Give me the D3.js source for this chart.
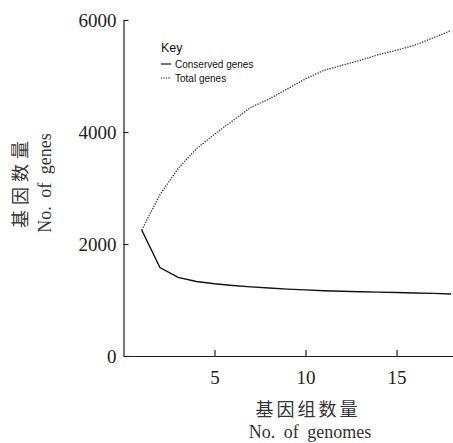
<!DOCTYPE html>
<html>
<head>
<meta charset="utf-8">
<script src="https://cdn.jsdelivr.net/npm/d3@7"></script>
<style>
  body { margin: 0; background: #fff; }
  .tick text { font-family: "Liberation Serif", "Times New Roman", serif; font-size: 19px; fill: #222; }
  .axisText { font-family: "Liberation Serif", serif; font-size: 18px; fill: #333; }
  .cjk { font-family: "Noto Sans CJK SC", sans-serif; font-size: 18px; fill: #333; }
  .legend { font-family: "Liberation Sans", Arial, sans-serif; fill: #111; }
</style>
</head>
<body>
<div class="chart"></div>
<script>
var svgWidth = 453;
var svgHeight = 443;

// data
var genomes = [1, 2, 3, 4, 5, 6, 7, 8, 9, 10, 11, 12, 13, 14, 15, 16, 17, 18];
var conservedGenes = [2250, 1580, 1405, 1330, 1290, 1260, 1235, 1215, 1195, 1180, 1165, 1155, 1148, 1140, 1133, 1126, 1118, 1108];
var totalGenes = [2250, 2880, 3350, 3700, 3960, 4200, 4440, 4590, 4770, 4950, 5100, 5190, 5280, 5380, 5460, 5550, 5680, 5810];
var xTicks = [5, 10, 15];
var yTicks = [0, 2000, 4000, 6000];
var seriesNames = ["Conserved genes", "Total genes"];

var svg = d3.select(".chart")
  .append("svg")
  .attr("width", svgWidth)
  .attr("height", svgHeight);

var xScale = d3.scaleLinear()
  .domain([0, 18.1])
  .range([123.5, 453]);

var yScale = d3.scaleLinear()
  .domain([0, 6000])
  .range([356, 20]);

// axes, ticks pointing inward
var bottomAxis = d3.axisBottom(xScale)
  .tickValues(xTicks)
  .tickFormat(d3.format("d"))
  .tickSizeInner(-6)
  .tickSizeOuter(0)
  .tickPadding(15);

var leftAxis = d3.axisLeft(yScale)
  .tickValues(yTicks)
  .tickFormat(d3.format("d"))
  .tickSizeInner(-5)
  .tickSizeOuter(0)
  .tickPadding(7);

var xAxisG = svg.append("g")
  .attr("transform", "translate(0,356)")
  .call(bottomAxis);

var yAxisG = svg.append("g")
  .attr("transform", "translate(123.5,0)")
  .call(leftAxis);

svg.selectAll(".domain, .tick line")
  .attr("stroke", "#222")
  .attr("stroke-width", 1.2);
yAxisG.selectAll(".tick text").attr("dy", "0.36em");

var line = d3.line()
  .x(function (d) { return xScale(d.x); })
  .y(function (d) { return yScale(d.y); });

var conservedData = genomes.map(function (g, i) { return { x: g, y: conservedGenes[i] }; });
var totalData = genomes.map(function (g, i) { return { x: g, y: totalGenes[i] }; });

svg.append("path")
  .datum(totalData)
  .attr("fill", "none")
  .attr("stroke", "#333")
  .attr("stroke-width", 1.3)
  .attr("stroke-dasharray", "1.3,1.3")
  .attr("d", line);

svg.append("path")
  .datum(conservedData)
  .attr("fill", "none")
  .attr("stroke", "#111")
  .attr("stroke-width", 1.4)
  .attr("d", line);

// legend
var legend = svg.append("g").attr("transform", "translate(161,0)");
legend.append("text")
  .attr("class", "legend")
  .attr("x", 0)
  .attr("y", 52)
  .style("font-size", "12.5px")
  .text("Key");

seriesNames.forEach(function (name, i) {
  var y = 64 + i * 14;
  legend.append("line")
    .attr("x1", 0).attr("x2", 10)
    .attr("y1", y).attr("y2", y)
    .attr("stroke", "#111")
    .attr("stroke-width", 1.2)
    .attr("stroke-dasharray", i == 1 ? "1.2,1.2" : null);
  legend.append("text")
    .attr("class", "legend")
    .attr("x", 14)
    .attr("y", y + 3.5)
    .style("font-size", "10px")
    .text(name);
});

// axis titles
svg.append("text")
  .attr("class", "cjk")
  .attr("x", 308)
  .attr("y", 416)
  .attr("text-anchor", "middle")
  .style("letter-spacing", "3px")
  .text("基因组数量");

svg.append("text")
  .attr("class", "axisText")
  .attr("x", 310)
  .attr("y", 438)
  .attr("text-anchor", "middle")
  .style("word-spacing", "4px")
  .text("No. of genomes");

// rotated y titles (opacity keeps the glyphs grey)
var yTitle = svg.append("g").style("opacity", 0.99);
yTitle.append("text")
  .attr("class", "cjk")
  .attr("transform", "translate(27,182) rotate(-90)")
  .attr("text-anchor", "middle")
  .style("letter-spacing", "5px")
  .text("基因数量");

yTitle.append("text")
  .attr("class", "axisText")
  .attr("transform", "translate(51,183) rotate(-90)")
  .attr("text-anchor", "middle")
  .style("word-spacing", "4px")
  .text("No. of genes");
</script>
</body>
</html>
